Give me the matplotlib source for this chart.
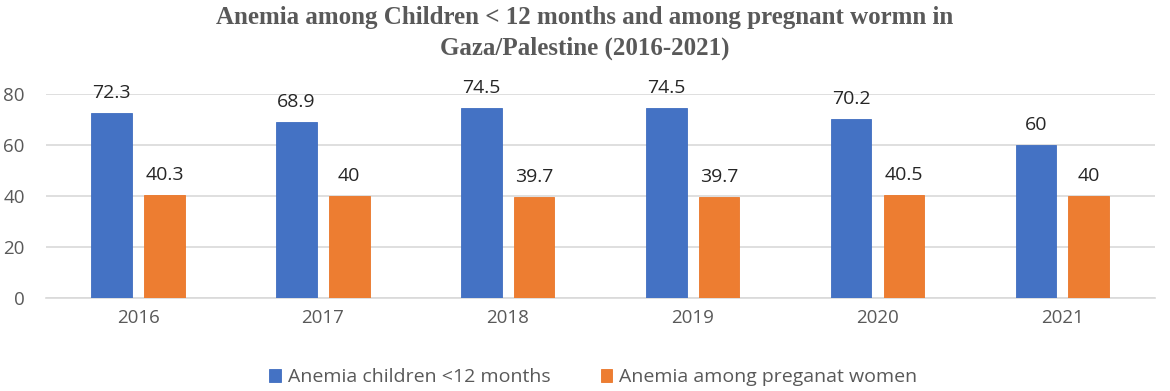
import matplotlib
matplotlib.use("Agg")
import matplotlib.pyplot as plt
import numpy as np

years = ["2016", "2017", "2018", "2019", "2020", "2021"]
children = [72.3, 68.9, 74.5, 74.5, 70.2, 60]
pregnant = [40.3, 40, 39.7, 39.7, 40.5, 40]
series_names = ["Anemia children <12 months", "Anemia among preganat women"]
title = "Anemia among Children < 12 months and among pregnant wormn in\nGaza/Palestine (2016-2021)"

plt.rcParams['font.family'] = ['Open Sans', 'DejaVu Sans']

fig = plt.figure(figsize=(11.7, 3.91), dpi=100)
ax = fig.add_axes([0.039, 0.238, 0.948, 0.522])

x = np.arange(len(years))
w = 0.22
gap = 0.065
blue = "#4472C4"
orange = "#ED7D31"
b1 = ax.bar(x - (w + gap) / 2, children, w, color=blue, edgecolor="#3F6DC0", linewidth=0.6, label=series_names[0], zorder=3)
b2 = ax.bar(x + (w + gap) / 2, pregnant, w, color=orange, edgecolor="#EA7628", linewidth=0.6, label=series_names[1], zorder=3)

for rect, v in zip(list(b1) + list(b2), children + pregnant):
    ax.annotate(f"{v:g}", (rect.get_x() + rect.get_width() / 2, v), xytext=(0, 8),
                textcoords="offset points", ha="center", va="bottom",
                fontsize=14, color="#262626", annotation_clip=False)

ax.set_xlim(-0.5, len(years) - 0.5)
ax.set_ylim(0, 80)
ax.set_yticks([0, 20, 40, 60, 80])
ax.set_xticks(x)
ax.set_xticklabels(years)
ax.yaxis.grid(True, color="#D9D9D9", linewidth=1.2, zorder=0)
ax.set_axisbelow(True)
for s in ["top", "right", "left"]:
    ax.spines[s].set_visible(False)
ax.spines["bottom"].set_color("#D9D9D9")
ax.spines["bottom"].set_linewidth(1.2)
ax.tick_params(axis="both", length=0, labelsize=13.5, labelcolor="#595959")
ax.tick_params(axis="x", pad=8)
ax.tick_params(axis="y", pad=15)

fig.text(0.5, 0.985, title, ha="center", va="top", fontsize=18, fontweight="bold",
         color="#595959", family=["Liberation Serif", "DejaVu Serif"], linespacing=1.45)

fig.legend(handles=[b1, b2], labels=series_names, loc="center", bbox_to_anchor=(0.507, 0.035),
           ncol=2, frameon=False, fontsize=14, labelcolor="#595959",
           handlelength=0.6, handleheight=0.6, columnspacing=2.6, handletextpad=0.35)

fig.savefig("out.png", dpi=100)
